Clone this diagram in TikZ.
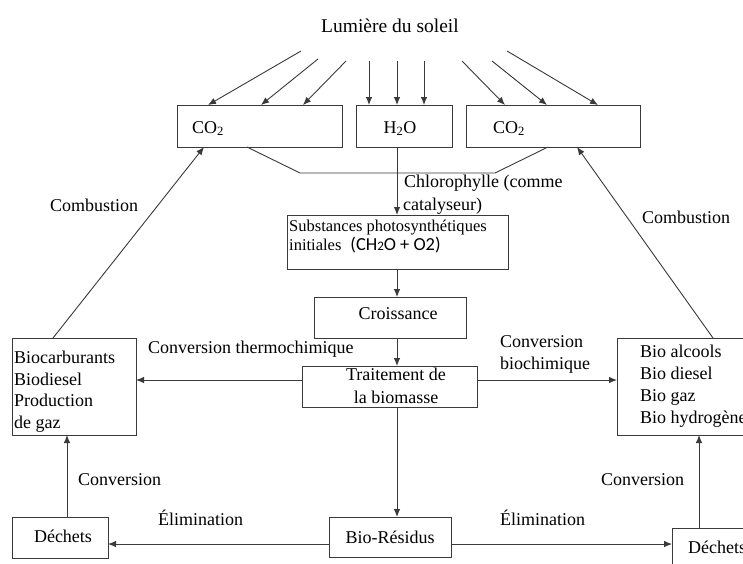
\documentclass[tikz,border=0pt]{standalone}
\usepackage{fontspec}
\setmainfont{Liberation Serif}
\newfontfamily\formulafont{Carlito}
\usetikzlibrary{arrows.meta,calc}
\definecolor{linec}{HTML}{3A3A3A}
\begin{document}
\begin{tikzpicture}[x=1pt,y=-1pt,
  box/.style={draw=linec, line width=0.9pt, inner sep=0pt, outer sep=0pt, anchor=north west},
  conn/.style={draw=linec, line width=0.9pt},
  arr/.style={conn, -{Latex[length=8pt,width=6.5pt]}},
  lbl/.style={font=\fontsize{18}{21}\selectfont, inner sep=0pt, anchor=base west},
  lblc/.style={lbl, anchor=base},
  small/.style={font=\fontsize{16.5}{19}\selectfont, inner sep=0pt, anchor=base west}]
\useasboundingbox (0,0) rectangle (743,563);
\fill[white] (0,0) rectangle (743,563);
\clip (0,0) rectangle (743,563);

% reference columns and rows
\coordinate (spine) at (397,0);
\coordinate (cl) at (67,0);
\coordinate (cr) at (699,0);
\coordinate (row) at (0,380);
\coordinate (erow) at (0,544);

% boxes
\node[box, minimum width=165pt, minimum height=42pt] (co2l) at (177,105) {};
\node[box, minimum width=96pt,  minimum height=42pt] (h2o)  at (356,105) {};
\node[box, minimum width=174pt, minimum height=42pt] (co2r) at (466,105) {};
\node[box, minimum width=221pt, minimum height=54pt] (subst) at (287,215) {};
\node[box, minimum width=152pt, minimum height=41pt] (crois) at (314,297) {};
\node[box, minimum width=175pt, minimum height=41pt] (trait) at (302,366) {};
\node[box, minimum width=124pt, minimum height=97pt] (biocarb) at (12,338) {};
\node[box, minimum width=150pt, minimum height=97pt] (bioalc) at (617,338) {};
\node[box, minimum width=96pt,  minimum height=41pt] (dechl) at (12,517) {};
\node[box, minimum width=122pt, minimum height=40pt] (bior) at (329,517) {};
\node[box, minimum width=100pt, minimum height=45pt] (dechr) at (672,528) {};

% sunlight
\node[font=\fontsize{19.5}{22}\selectfont, inner sep=0pt, anchor=base] (sun) at (390,32) {Lumière du soleil};
\coordinate (r1) at (301,51);
\coordinate (r2) at (318,59);
\coordinate (r3) at (346,61);
\coordinate (r4) at (369,61);
\coordinate (r5) at (397,61);
\coordinate (r6) at (424,61);
\coordinate (r7) at (462,61);
\coordinate (r8) at (492,61);
\coordinate (r9) at (507,51);
\draw[arr] (r1) -- ($(co2l.north west)+(31,0)$);
\draw[arr] (r2) -- ($(co2l.north west)+(84,0)$);
\draw[arr] (r3) -- ($(co2l.north west)+(126,0)$);
\draw[arr] (r4) -- (r4 |- h2o.north);
\draw[arr] (r5) -- (r5 |- h2o.north);
\draw[arr] (r6) -- (r6 |- h2o.north);
\draw[arr] (r7) -- ($(co2r.north west)+(39,0)$);
\draw[arr] (r8) -- ($(co2r.north west)+(81,0)$);
\draw[arr] (r9) -- ($(co2r.north west)+(132,0)$);

% box texts
\node[lbl] (t-co2l) at (192,133) {CO\textsubscript{2}};
\node[lblc] (t-h2o) at (400,133) {H\textsubscript{2}O};
\node[lbl] (t-co2r) at (493,133) {CO\textsubscript{2}};

% chlorophyll link between the two CO2 boxes
\draw[conn] ($(co2l.south west)+(70,0)$) -- (300,173) -- (495,173) -- ($(co2r.south west)+(82,0)$);
\draw[arr] (h2o.south -| spine) -- (subst.north -| spine);
\node[lbl, fill=white, inner sep=1pt] (chl1) at (403,187) {Chlorophylle (comme};
\node[lbl] (chl2) at (403,210) {catalyseur)};

\node[small] (s1) at (289,231) {Substances photosynthétiques};
\node[small] (s2) at (289,250) {initiales\hspace{9pt}{\formulafont\fontsize{18.4}{20}\selectfont (CH{\fontsize{13}{13}\selectfont 2}O + O2)}};

\node[lblc] (t-crois) at (398,319) {Croissance};
\node[lblc] (t-trait1) at (396,380) {Traitement de};
\node[lblc] (t-trait2) at (396,403) {la biomasse};

\node[lbl] (b1) at (14,363) {Biocarburants};
\node[lbl] (b2) at (14,385) {Biodiesel};
\node[lbl] (b3) at (14,406.5) {Production};
\node[lbl] (b4) at (14,428) {de gaz};

\node[lbl] (a1) at (640,357) {Bio alcools};
\node[lbl] (a2) at (640,379) {Bio diesel};
\node[lbl] (a3) at (640,401) {Bio gaz};
\node[lbl] (a4) at (640,423) {Bio hydrogène};

\node[lblc] (t-dechl) at (63,542) {Déchets};
\node[lblc] (t-bior) at (390,543) {Bio-Résidus};
\node[lbl] (t-dechr) at (688,553) {Déchets};

% main flow
\draw[arr] (subst.south -| spine) -- (crois.north -| spine);
\draw[arr] (crois.south -| spine) -- (trait.north -| spine);
\draw[arr] (trait.south -| spine) -- (bior.north -| spine);
\draw[arr] (trait.west |- row) -- (biocarb.east |- row);
\draw[arr] (trait.east |- row) -- (bioalc.west |- row);
\draw[arr] (bior.west |- erow) -- (dechl.east |- erow);
\draw[arr] (bior.east |- erow) -- (dechr.west |- erow);
\draw[arr] (dechl.north -| cl) -- (biocarb.south -| cl);
\draw[arr] (dechr.north -| cr) -- (bioalc.south -| cr);
\draw[arr] ($(biocarb.north west)+(41,0)$) -- ($(co2l.south west)+(27,0)$);
\draw[arr] ($(bioalc.north west)+(96,0)$) -- ($(co2r.south west)+(111,0)$);

% edge labels
\node[lbl] (l-thermo) at (148,353) {Conversion thermochimique};
\node[lbl] (l-bio1) at (500,347) {Conversion};
\node[lbl] (l-bio2) at (500,369) {biochimique};
\node[lbl] (l-combl) at (50,211) {Combustion};
\node[lbl] (l-combr) at (642,223) {Combustion};
\node[lbl] (l-convl) at (78,485) {Conversion};
\node[lbl] (l-convr) at (601,485) {Conversion};
\node[lbl] (l-eliml) at (158,525) {Élimination};
\node[lbl] (l-elimr) at (500,525) {Élimination};
\end{tikzpicture}
\end{document}
